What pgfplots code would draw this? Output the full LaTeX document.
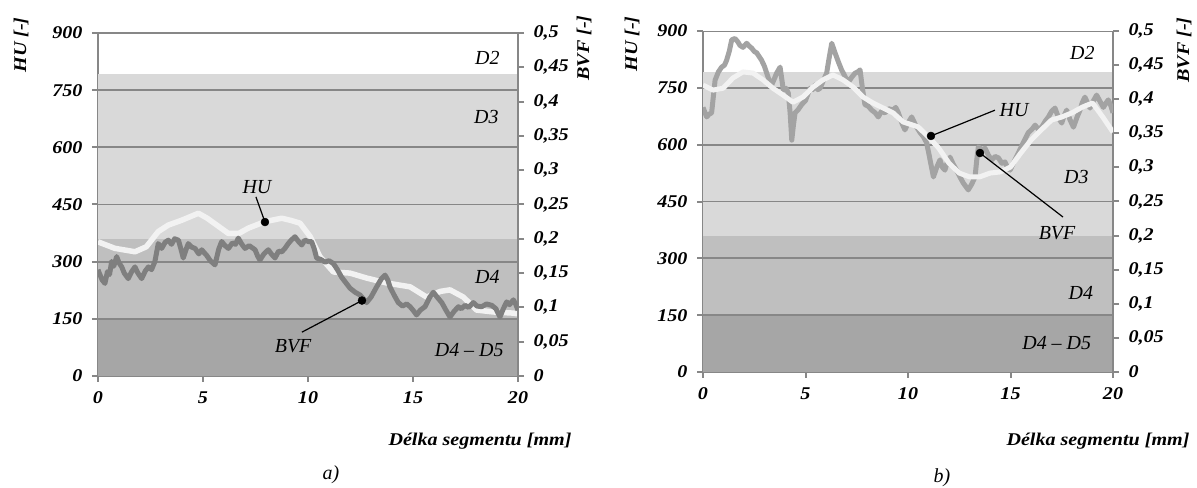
\documentclass[border=0pt]{standalone}
\usepackage{pgfplots}
\pgfplotsset{compat=1.18}
\usepackage{fontspec}
\setmainfont{Liberation Serif}
\newfontfamily\tickfam[FakeStretch=1.12]{Liberation Serif}
\definecolor{bandL}{HTML}{D9D9D9}
\definecolor{bandM}{HTML}{BFBFBF}
\definecolor{bandD}{HTML}{A6A6A6}
\definecolor{gridc}{HTML}{878787}
\definecolor{huc}{HTML}{F2F2F2}
\definecolor{bvfa}{HTML}{7F7F7F}
\definecolor{bvfb}{HTML}{A3A3A3}
\newcommand\tf{\fontsize{18}{18}\selectfont\tickfam\bfseries\itshape}
\newcommand\af{\fontsize{20}{20}\selectfont\itshape}

\pgfplotstableread{
x y
0 352
0.8 335
1.76 326
2.3 339
2.87 379
3.35 396
4.0 409
4.78 427
5.2 414
6.21 374
6.7 374
7.16 388
7.95 405
8.75 414
9.2 408
9.62 401
10.1 366
10.57 313
11.21 273
12 270
12.79 257
13.75 244
14.86 234
15.65 207
16.3 222
16.76 226
17.4 207
18.03 173
18.83 168
19.78 165
20 163
}\huA

\pgfplotstableread{
x y
0.00 0.155
0.06 0.150
0.2 0.140
0.33 0.135
0.45 0.152
0.55 0.148
0.65 0.167
0.75 0.160
0.89 0.174
1.0 0.165
1.13 0.159
1.25 0.150
1.44 0.142
1.6 0.152
1.76 0.159
1.9 0.150
2.08 0.142
2.25 0.153
2.4 0.159
2.55 0.155
2.71 0.167
2.87 0.193
3.03 0.186
3.2 0.195
3.35 0.198
3.5 0.192
3.65 0.200
3.83 0.198
3.95 0.185
4.06 0.172
4.2 0.185
4.3 0.193
4.45 0.188
4.62 0.186
4.8 0.178
4.94 0.184
5.05 0.180
5.17 0.176
5.35 0.168
5.57 0.162
5.75 0.185
5.89 0.196
6.05 0.190
6.21 0.186
6.4 0.194
6.55 0.192
6.68 0.201
6.85 0.192
7.0 0.186
7.2 0.190
7.48 0.184
7.6 0.175
7.71 0.169
7.9 0.178
8.11 0.184
8.25 0.178
8.43 0.172
8.6 0.182
8.75 0.181
8.9 0.186
9.06 0.193
9.2 0.198
9.38 0.203
9.55 0.196
9.7 0.191
9.85 0.198
10.02 0.196
10.17 0.196
10.3 0.185
10.41 0.172
10.6 0.170
10.81 0.166
11.0 0.168
11.21 0.164
11.4 0.155
11.6 0.144
11.8 0.136
12.0 0.128
12.25 0.122
12.48 0.118
12.65 0.112
12.79 0.107
13.0 0.115
13.27 0.130
13.5 0.142
13.67 0.147
13.8 0.140
13.9 0.130
14.1 0.118
14.3 0.107
14.5 0.102
14.7 0.105
14.86 0.101
15.0 0.096
15.17 0.089
15.35 0.096
15.57 0.101
15.8 0.115
15.97 0.122
16.15 0.115
16.37 0.107
16.55 0.097
16.76 0.086
16.95 0.094
17.16 0.101
17.3 0.098
17.48 0.103
17.65 0.100
17.87 0.107
18.05 0.102
18.27 0.101
18.5 0.105
18.75 0.103
18.95 0.098
19.14 0.086
19.3 0.098
19.46 0.108
19.6 0.104
19.78 0.111
19.9 0.104
20.0 0.096
}\bvfA

\pgfplotstableread{
x y
0 757
0.49 744
0.98 749
1.46 776
1.95 792
2.44 789
2.93 771
3.41 749
3.9 731
4.39 712
4.88 726
5.37 752
5.85 771
6.34 784
6.83 771
7.32 752
7.8 726
8.29 710
8.78 697
9.27 684
9.76 660
10.49 647
11.0 620
11.5 591
12.0 551
12.5 525
13.0 515
13.5 515
14.0 525
14.5 528
15.0 541
15.5 578
16.0 612
16.5 639
17.0 665
17.5 673
18.0 684
18.5 699
19.0 710
19.5 673
20.0 633
}\huB

\pgfplotstableread{
x y
0.00 0.388
0.10 0.380
0.18 0.374
0.30 0.378
0.42 0.380
0.59 0.428
0.75 0.440
0.91 0.447
1.05 0.450
1.15 0.457
1.28 0.470
1.40 0.487
1.56 0.489
1.70 0.484
1.80 0.479
1.95 0.476
2.13 0.482
2.25 0.478
2.37 0.475
2.50 0.470
2.62 0.468
2.75 0.462
2.86 0.457
3.00 0.448
3.11 0.438
3.22 0.428
3.35 0.421
3.48 0.430
3.59 0.438
3.76 0.447
3.92 0.413
4.05 0.416
4.16 0.409
4.25 0.380
4.33 0.340
4.41 0.362
4.49 0.380
4.65 0.385
4.81 0.392
5.00 0.398
5.22 0.416
5.35 0.414
5.46 0.421
5.60 0.414
5.71 0.416
5.88 0.428
6.03 0.438
6.15 0.460
6.28 0.482
6.44 0.468
6.60 0.455
6.76 0.443
6.95 0.432
7.09 0.425
7.25 0.432
7.41 0.438
7.55 0.440
7.66 0.443
7.78 0.415
7.90 0.392
8.05 0.390
8.23 0.384
8.40 0.380
8.55 0.374
8.70 0.382
8.88 0.380
9.05 0.386
9.28 0.384
9.40 0.388
9.53 0.380
9.70 0.365
9.85 0.355
10.00 0.365
10.18 0.374
10.40 0.360
10.59 0.351
10.75 0.345
10.91 0.336
11.05 0.315
11.24 0.286
11.40 0.300
11.56 0.311
11.68 0.300
11.80 0.296
11.92 0.308
12.05 0.315
12.20 0.305
12.37 0.296
12.55 0.285
12.70 0.277
12.82 0.272
12.94 0.267
13.10 0.275
13.27 0.286
13.35 0.310
13.43 0.330
13.60 0.326
13.76 0.328
13.92 0.318
14.08 0.311
14.25 0.316
14.41 0.314
14.58 0.306
14.73 0.308
14.85 0.300
14.98 0.296
15.20 0.310
15.46 0.326
15.65 0.338
15.87 0.351
16.05 0.356
16.20 0.362
16.35 0.356
16.52 0.359
16.70 0.368
16.85 0.374
17.00 0.382
17.17 0.387
17.35 0.372
17.50 0.365
17.62 0.376
17.74 0.384
17.90 0.370
18.07 0.359
18.25 0.374
18.39 0.384
18.50 0.395
18.63 0.403
18.75 0.395
18.88 0.387
19.05 0.398
19.20 0.406
19.38 0.396
19.53 0.388
19.65 0.394
19.77 0.399
19.90 0.390
20.00 0.380
}\bvfB

\pgfplotsset{
  frame/.style={scale only axis, xmin=0, xmax=20,
    axis line style={gridc, line width=2.8bp},
    tick align=outside, major tick length=6bp,
    tick style={gridc, line width=2bp},
    ticklabel style={font=\tf},
    /pgf/number format/assume math mode=true},
  huaxis/.style={frame, ymin=0, ymax=900,
    axis x line*=bottom, axis y line*=left,
    xtick={0,5,10,15,20}, ytick={0,150,...,900},
    yticklabel style={xshift=-6bp}, xticklabel style={yshift=-6bp}},
  bvfaxis/.style={frame, ymin=0, ymax=0.5,
    axis y line*=right, axis x line=none,
    ytick={0,0.05,0.1,0.15,0.2,0.25,0.3,0.35,0.4,0.45,0.5},
    yticklabels={0,{0,05},{0,1},{0,15},{0,2},{0,25},{0,3},{0,35},{0,4},{0,45},{0,5}},
    yticklabel style={xshift=6bp}},
  gl/.style={gridc, line width=1.8bp, forget plot},
}

\begin{document}
\begin{tikzpicture}
\useasboundingbox (0,0) rectangle (1197bp,488bp);

% ---------------- panel a ----------------
\begin{axis}[huaxis, at={(98bp,112bp)}, anchor=south west, width=420bp, height=343bp]
\addplot[fill=bandL, draw=none] coordinates {(0,792) (20,792)} \closedcycle;
\addplot[fill=bandM, draw=none] coordinates {(0,360) (20,360)} \closedcycle;
\addplot[fill=bandD, draw=none] coordinates {(0,150) (20,150)} \closedcycle;
\addplot[gl] coordinates {(0,150) (20,150)};
\addplot[gl] coordinates {(0,300) (20,300)};
\addplot[gl] coordinates {(0,450) (20,450)};
\addplot[gl] coordinates {(0,600) (20,600)};
\addplot[gl] coordinates {(0,750) (20,750)};
\addplot[gl] coordinates {(0,900) (20,900)};
\addplot[huc, line width=5.5bp, line join=round] table {\huA};
\end{axis}
\begin{axis}[bvfaxis, at={(98bp,112bp)}, anchor=south west, width=420bp, height=343bp]
\addplot[bvfa, line width=5bp, line join=round] table {\bvfA};
\end{axis}
\begin{axis}[hide axis, scale only axis, xmin=0, xmax=20, ymin=0, ymax=900,
  at={(98bp,112bp)}, anchor=south west, width=420bp, height=343bp, clip=false]
\addplot[black, line width=1.2bp] coordinates {(7.52,470) (7.95,404)};
\addplot[black, only marks, mark=*, mark size=4bp] coordinates {(7.95,404)};
\addplot[black, line width=1.2bp] coordinates {(9.71,115) (12.57,198)};
\addplot[black, only marks, mark=*, mark size=4bp] coordinates {(12.57,198)};
\node[font=\af] at (axis cs:7.57,496) {HU};
\node[font=\af] at (axis cs:9.29,79) {BVF};
\node[font=\af, anchor=east] at (axis cs:19.29,834) {D2};
\node[font=\af, anchor=east] at (axis cs:19.24,680) {D3};
\node[font=\af, anchor=east] at (axis cs:19.29,260) {D4};
\node[font=\af, anchor=east] at (axis cs:19.48,68) {D4 -- D5};
\end{axis}

% ---------------- panel b ----------------
\begin{axis}[huaxis, at={(703bp,116bp)}, anchor=south west, width=410bp, height=341bp]
\addplot[fill=bandL, draw=none] coordinates {(0,792) (20,792)} \closedcycle;
\addplot[fill=bandM, draw=none] coordinates {(0,360) (20,360)} \closedcycle;
\addplot[fill=bandD, draw=none] coordinates {(0,150) (20,150)} \closedcycle;
\addplot[gl] coordinates {(0,150) (20,150)};
\addplot[gl] coordinates {(0,300) (20,300)};
\addplot[gl] coordinates {(0,450) (20,450)};
\addplot[gl] coordinates {(0,600) (20,600)};
\addplot[gl] coordinates {(0,750) (20,750)};
\addplot[gl] coordinates {(0,900) (20,900)};
\end{axis}
\begin{axis}[bvfaxis, at={(703bp,116bp)}, anchor=south west, width=410bp, height=341bp]
\addplot[bvfb, line width=5bp, line join=round] table {\bvfB};
\end{axis}
\begin{axis}[hide axis, scale only axis, xmin=0, xmax=20, ymin=0, ymax=900,
  at={(703bp,116bp)}, anchor=south west, width=410bp, height=341bp]
\addplot[huc, line width=5bp, line join=round] table {\huB};
\end{axis}
\begin{axis}[hide axis, scale only axis, xmin=0, xmax=20, ymin=0, ymax=900,
  at={(703bp,116bp)}, anchor=south west, width=410bp, height=341bp, clip=false]
\addplot[black, line width=1.2bp] coordinates {(11.12,623) (14.24,691)};
\addplot[black, only marks, mark=*, mark size=4bp] coordinates {(11.12,623)};
\addplot[black, line width=1.2bp] coordinates {(13.51,578) (17.56,409)};
\addplot[black, only marks, mark=*, mark size=4bp] coordinates {(13.51,578)};
\node[font=\af, anchor=west] at (axis cs:14.3,691) {HU};
\node[font=\af] at (axis cs:17.27,367) {BVF};
\node[font=\af, anchor=east] at (axis cs:19.27,842) {D2};
\node[font=\af, anchor=east] at (axis cs:18.98,515) {D3};
\node[font=\af, anchor=east] at (axis cs:19.2,208) {D4};
\node[font=\af, anchor=east] at (axis cs:19.1,77) {D4 -- D5};
\end{axis}

% axis titles and panel captions
\node[rotate=90, font=\tf] at (21bp,443bp) {HU [-]};
\node[rotate=90, font=\tf] at (584bp,440bp) {BVF [-]};
\node[rotate=90, font=\tf] at (632bp,444bp) {HU [-]};
\node[rotate=90, font=\tf] at (1184bp,438bp) {BVF [-]};
\node[font=\tf, anchor=east] at (575bp,47bp) {Délka segmentu [mm]};
\node[font=\tf, anchor=east] at (1193bp,47bp) {Délka segmentu [mm]};
\node[font=\af] at (331bp,13bp) {a)};
\node[font=\af] at (942bp,10bp) {b)};
\end{tikzpicture}
\end{document}
